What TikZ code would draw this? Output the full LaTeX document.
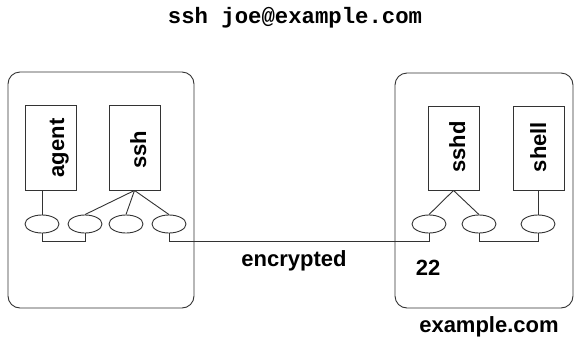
\documentclass[tikz,border=0pt]{standalone}
\usepackage{fontspec}
\setmainfont{Liberation Sans}
\newfontfamily\monofont{Liberation Mono}
\usetikzlibrary{shapes.geometric}
\begin{document}
\begin{tikzpicture}[x=1pt,y=-1pt,
  ln/.style={draw=black!80,line width=0.9pt},
  host/.style={ln,rounded corners=12pt,inner sep=0pt,rectangle},
  proc/.style={ln,rectangle,inner sep=0pt,minimum width=51pt},
  port/.style={ln,ellipse,inner sep=0pt,minimum width=34pt,minimum height=18pt},
  lbl/.style={font=\fontsize{22}{26}\selectfont\bfseries,inner sep=0pt,anchor=base},
  vlbl/.style={lbl,rotate=90}]
\useasboundingbox (0,0) rectangle (576,338);
\node[lbl,font=\monofont\fontsize{22.3}{26}\selectfont\bfseries] (cmd) at (295,23) {ssh joe@example.com};
\node[host,minimum width=186pt,minimum height=236pt] (hostL) at (101,190) {};
\node[host,minimum width=178pt,minimum height=235pt] (hostR) at (484,190.5) {};
\node[proc,minimum height=85pt] (agent) at (50.5,147.5) {};
\node[proc,minimum height=85pt] (ssh) at (134.5,147.5) {};
\node[proc,minimum height=84pt] (sshd) at (453.5,148) {};
\node[proc,minimum height=84pt] (shell) at (538.5,148) {};
\node[vlbl] (tagent) at (64,148) {agent};
\node[vlbl] (tssh) at (146,150) {ssh};
\node[vlbl] (tsshd) at (465,147) {sshd};
\node[vlbl] (tshell) at (546,147) {shell};
\node[port] (e1) at (42,224) {};
\node[port] (e2) at (85,224) {};
\node[port] (e3) at (126,224) {};
\node[port] (e4) at (169,224) {};
\node[port] (eA) at (429,224) {};
\node[port] (eB) at (479,224) {};
\node[port] (eC) at (538,224) {};
\coordinate (busY) at (0,241);
\draw[ln] (e1.north) -- (e1.north |- agent.south);
\draw[ln] (ssh.south) -- (e2.north);
\draw[ln] (ssh.south) -- (e3.north);
\draw[ln] (ssh.south) -- (e4.north);
\draw[ln] (e1.south) -- (e1.south |- busY) -| (e2.south);
\draw[ln] (e4.south) -- (e4.south |- busY) -| (eA.south);
\draw[ln] (sshd.south) -- (eA.north);
\draw[ln] (sshd.south) -- (eB.north);
\draw[ln] (eC.north) -- (eC.north |- shell.south);
\draw[ln] (eB.south) -- (eB.south |- busY) -| (eC.south);
\node[lbl] (enc) at (294,266) {encrypted};
\node[lbl] (port22) at (428,275) {22};
\node[lbl] (host) at (489,332) {example.com};
\end{tikzpicture}
\end{document}
